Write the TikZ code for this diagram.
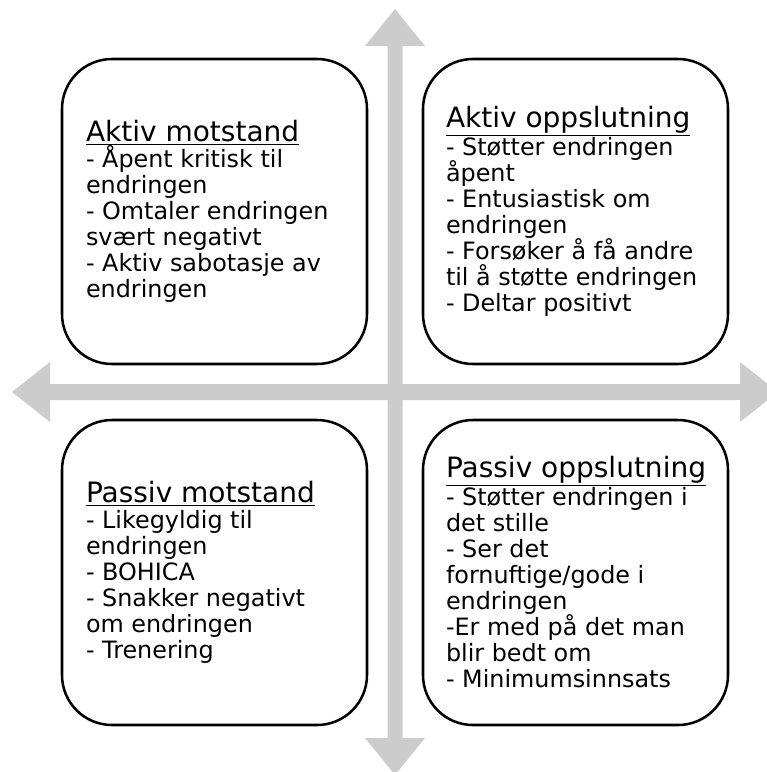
\documentclass[tikz,border=0pt]{standalone}
\usepackage{fontspec}
\setmainfont{DejaVu Sans}
\usepackage{xcolor}
\definecolor{axisgray}{RGB}{204,204,204}
\newcommand{\bodysize}{\fontsize{17.9pt}{19.5pt}\selectfont}
\newcommand{\headsize}{\fontsize{21pt}{19.5pt}\selectfont}
\newcommand{\head}[1]{{\headsize\underline{#1}}}
\tikzset{
  quad/.style={draw, line width=1.9pt, rounded corners=37.5pt, minimum width=228.75pt, minimum height=228.75pt, inner sep=0pt},
  quadtext/.style={anchor=west, align=left, inner sep=0pt, font=\bodysize},
}

\begin{document}
\begin{tikzpicture}[x=0.75pt,y=-0.75pt]
   % \draw[step=10,gray,very thin] (0,0) grid (767,772);
   \clip (0,0) rectangle (767,772);
   % axes
   \fill[axisgray] (395,9) -- (425,46) -- (402.5,46) -- (402.5,738) -- (425,738) -- (395,775) -- (365,738) -- (387.5,738) -- (387.5,46) -- (365,46) -- cycle;
   \fill[axisgray] (12,392) -- (50,362) -- (50,384) -- (740,384) -- (740,362) -- (778,392) -- (740,422) -- (740,400) -- (50,400) -- (50,422) -- cycle;

   \node[quad] (aktmot) at (214.5,211.5) {};
   \node[quad] (aktopp) at (575.5,211.5) {};
   \node[quad] (pasmot) at (214.5,572.5) {};
   \node[quad] (pasopp) at (575.5,572.5) {};

   \node[quadtext] (aktmot-txt) at ([xshift=18.75pt]aktmot.west) {\head{Aktiv motstand}\\
     - Åpent kritisk til\\ endringen\\ - Omtaler endringen\\ svært negativt\\ - Aktiv sabotasje av\\ endringen};
   \node[quadtext] (aktopp-txt) at ([xshift=18pt]aktopp.west) {\head{Aktiv oppslutning}\\
     - Støtter endringen\\ åpent\\ - Entusiastisk om\\ endringen\\ - Forsøker å få andre\\ til å støtte endringen\\ - Deltar positivt};
   \node[quadtext] (pasmot-txt) at ([xshift=18.75pt]pasmot.west) {\head{Passiv motstand}\\
     - Likegyldig til\\ endringen\\ - BOHICA\\ - Snakker negativt\\ om endringen\\ - Trenering};
   \node[quadtext] (pasopp-txt) at ([xshift=18pt]pasopp.west) {\head{Passiv oppslutning}\\
     - Støtter endringen i\\ det stille\\ - Ser det\\ fornuftige/gode i\\ endringen\\ -Er med på det man\\ blir bedt om\\ - Minimumsinnsats};
\end{tikzpicture}
\end{document}
